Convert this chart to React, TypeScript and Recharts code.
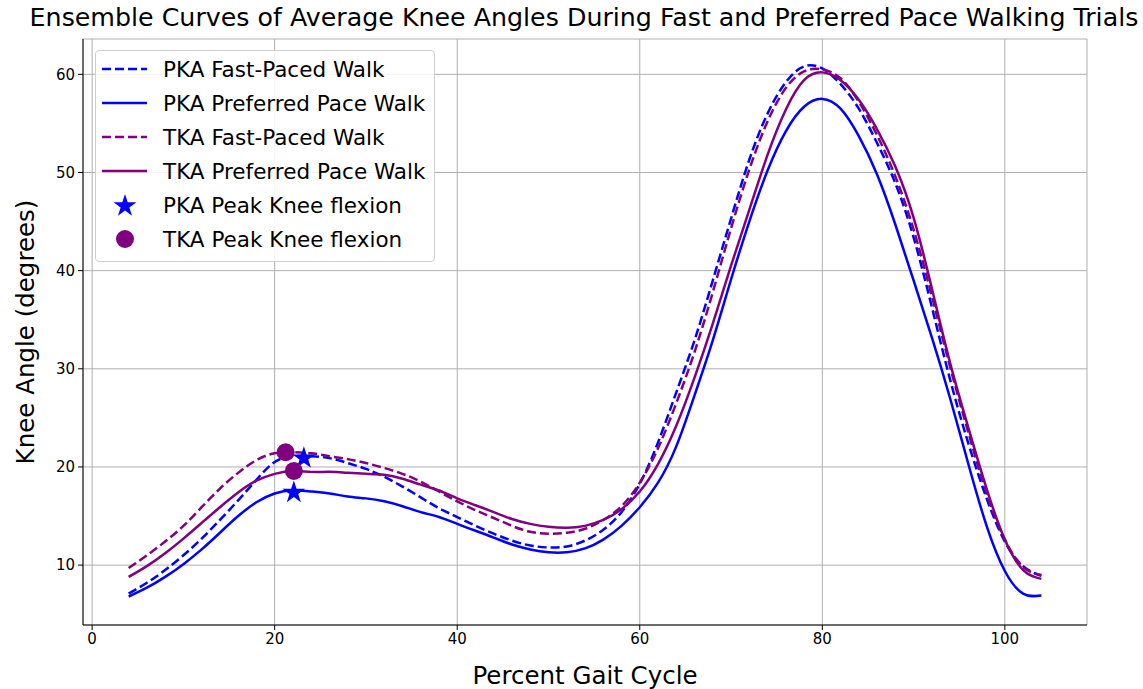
import React from 'react';
import { ComposedChart, Line, Scatter, XAxis, YAxis, CartesianGrid, Legend } from 'recharts';

const gaitPct = [4, 6, 8, 10, 12, 14, 16, 18, 20, 22, 24, 26, 28, 30, 32, 34, 36, 38, 40, 42, 44, 46, 48, 50, 52, 54, 56, 58, 60, 62, 64, 66, 68, 70, 72, 74, 76, 78, 80, 82, 84, 86, 88, 90, 92, 94, 96, 98, 100, 102, 104];

const pkaFast = [7.1, 8.2, 9.5, 11.0, 12.7, 14.6, 16.6, 18.7, 20.5, 21.1, 21.1, 20.9, 20.4, 19.8, 19.0, 18.0, 16.9, 15.8, 14.9, 14.0, 13.2, 12.5, 12.0, 11.8, 11.9, 12.5, 13.6, 15.4, 18.3, 22.5, 27.6, 32.9, 39.0, 45.3, 51.3, 56.0, 59.2, 60.8, 60.6, 59.0, 56.5, 53.0, 48.9, 43.4, 36.3, 28.9, 22.4, 16.8, 12.4, 9.9, 8.9];

const pkaPref = [6.8, 7.7, 8.8, 10.1, 11.6, 13.3, 15.0, 16.4, 17.3, 17.6, 17.5, 17.3, 17.0, 16.8, 16.5, 16.0, 15.4, 14.9, 14.2, 13.5, 12.8, 12.1, 11.6, 11.3, 11.3, 11.7, 12.6, 14.0, 15.9, 18.4, 22.1, 27.3, 32.9, 39.1, 45.0, 50.2, 54.2, 56.7, 57.5, 56.5, 53.7, 49.8, 44.7, 39.0, 33.2, 27.0, 20.3, 14.0, 9.4, 7.1, 6.9];

const tkaFast = [9.7, 11.0, 12.4, 14.0, 15.9, 17.8, 19.4, 20.7, 21.4, 21.5, 21.4, 21.1, 20.8, 20.4, 19.9, 19.3, 18.5, 17.5, 16.5, 15.6, 14.8, 14.0, 13.4, 13.2, 13.3, 13.7, 14.6, 16.0, 18.4, 21.9, 26.5, 31.7, 37.8, 44.3, 50.3, 55.2, 58.6, 60.3, 60.5, 59.6, 57.2, 53.8, 49.6, 44.2, 37.4, 30.2, 23.5, 17.3, 12.6, 9.8, 9.0];

const tkaPref = [8.8, 9.9, 11.2, 12.7, 14.3, 15.9, 17.4, 18.6, 19.3, 19.6, 19.5, 19.5, 19.4, 19.3, 19.2, 18.8, 18.2, 17.6, 16.8, 16.1, 15.4, 14.7, 14.2, 13.9, 13.8, 14.0, 14.6, 15.7, 17.5, 20.3, 24.2, 29.1, 34.6, 40.5, 46.2, 51.8, 56.4, 59.4, 60.2, 59.4, 57.4, 54.4, 50.6, 45.4, 38.2, 30.6, 24.0, 17.8, 12.6, 9.5, 8.6];

const pkaPeakX = [22.1, 23.2];
const pkaPeakY = [17.5, 21.0];
const tkaPeakX = [22.1, 21.2];
const tkaPeakY = [19.6, 21.5];

const xTicks = [0, 20, 40, 60, 80, 100];
const yTicks = [10, 20, 30, 40, 50, 60];

const TITLE = 'Ensemble Curves of Average Knee Angles During Fast and Preferred Pace Walking Trials';
const X_LABEL = 'Percent Gait Cycle';
const Y_LABEL = 'Knee Angle (degrees)';

const BLUE = '#0000ff';
const PURPLE = '#800080';
const FONT = '"DejaVu Sans", sans-serif';

const data = gaitPct.map((x, i) => ({
  x,
  pkaFast: pkaFast[i],
  pkaPref: pkaPref[i],
  tkaFast: tkaFast[i],
  tkaPref: tkaPref[i],
}));
const pkaPeaks = pkaPeakX.map((x, i) => ({ x, y: pkaPeakY[i] }));
const tkaPeaks = tkaPeakX.map((x, i) => ({ x, y: tkaPeakY[i] }));

const starPoints = (cx: number, cy: number, R: number) => {
  const r = R * 0.382;
  const pts: string[] = [];
  for (let k = 0; k < 10; k++) {
    const rad = k % 2 === 0 ? R : r;
    const a = -Math.PI / 2 + (k * Math.PI) / 5;
    pts.push(`${cx + rad * Math.cos(a)},${cy + rad * Math.sin(a)}`);
  }
  return pts.join(' ');
};

const StarShape = (props: any) => {
  const { cx, cy } = props;
  if (cx == null || cy == null) return null;
  return <polygon points={starPoints(cx, cy + 1, 12)} fill={BLUE} />;
};

const DotShape = (props: any) => {
  const { cx, cy } = props;
  if (cx == null || cy == null) return null;
  return <circle cx={cx} cy={cy} r={9} fill={PURPLE} />;
};

const legendItems = [
  { label: 'PKA Fast-Paced Walk', kind: 'dash', color: BLUE },
  { label: 'PKA Preferred Pace Walk', kind: 'line', color: BLUE },
  { label: 'TKA Fast-Paced Walk', kind: 'dash', color: PURPLE },
  { label: 'TKA Preferred Pace Walk', kind: 'line', color: PURPLE },
  { label: 'PKA Peak Knee flexion', kind: 'star', color: BLUE },
  { label: 'TKA Peak Knee flexion', kind: 'dot', color: PURPLE },
];

const LegendBox = () => (
  <div
    style={{
      border: '1px solid #d0d0d0',
      borderRadius: 4,
      background: 'rgba(255,255,255,0.85)',
      padding: '1px 9px 5px 5px',
      fontFamily: FONT,
      fontSize: 21.5,
      color: '#000',
      boxSizing: 'border-box',
    }}
  >
    {legendItems.map((it) => (
      <div key={it.label} style={{ display: 'flex', alignItems: 'center', height: 34 }}>
        <svg width={48} height={24} style={{ marginRight: 14, flex: 'none' }}>
          {it.kind === 'dash' && (
            <line x1={1} y1={12} x2={46} y2={12} stroke={it.color} strokeWidth={2.5} strokeDasharray="9 4" />
          )}
          {it.kind === 'line' && <line x1={1} y1={12} x2={46} y2={12} stroke={it.color} strokeWidth={2.5} />}
          {it.kind === 'star' && <polygon points={starPoints(24, 13, 12)} fill={it.color} />}
          {it.kind === 'dot' && <circle cx={24} cy={12} r={9} fill={it.color} />}
        </svg>
        <span style={{ whiteSpace: 'nowrap' }}>{it.label}</span>
      </div>
    ))}
  </div>
);

const YLabel = (props: any) => {
  const vb = props.viewBox || {};
  const cx = 25;
  const cy = vb.y + vb.height / 2;
  return (
    <text
      x={cx}
      y={cy}
      transform={`rotate(-90 ${cx} ${cy})`}
      textAnchor="middle"
      dominantBaseline="central"
      fontFamily={FONT}
      fontSize={24.5}
      fill="#000"
    >
      {Y_LABEL}
    </text>
  );
};

const XLabel = (props: any) => {
  const vb = props.viewBox || {};
  const cx = vb.x + vb.width / 2;
  const cy = vb.y + 50;
  return (
    <text x={cx} y={cy} textAnchor="middle" dominantBaseline="central" fontFamily={FONT} fontSize={24.5} fill="#000">
      {X_LABEL}
    </text>
  );
};

const tickStyle = { fontFamily: FONT, fontSize: 15, fill: '#000' };

export default function App() {
  return (
    <div style={{ position: 'absolute', left: 0, top: 0, width: 1143, height: 689, background: '#fff' }}>
      <div
        style={{
          position: 'absolute',
          left: 0,
          width: 1168,
          top: 3,
          textAlign: 'center',
          fontFamily: FONT,
          fontSize: 25.3,
          lineHeight: '30px',
          color: '#000',
          whiteSpace: 'nowrap',
          zIndex: 2,
        }}
      >
        {TITLE}
      </div>
      <ComposedChart
        width={1143}
        height={689}
        data={data}
        margin={{ top: 39, right: 56, bottom: 0, left: 0 }}
      >
        <CartesianGrid stroke="#b0b0b0" strokeWidth={1} />
        <XAxis
          dataKey="x"
          type="number"
          domain={[-1, 109]}
          ticks={xTicks}
          allowDataOverflow
          height={64}
          tickSize={5}
          tickMargin={3}
          tick={tickStyle}
          stroke="#000"
          axisLine={{ stroke: '#000' }}
          tickLine={{ stroke: '#000' }}
          label={<XLabel />}
        />
        <XAxis
          xAxisId="top"
          orientation="top"
          dataKey="x"
          type="number"
          domain={[-1, 109]}
          height={0}
          tick={false}
          tickLine={false}
          axisLine={{ stroke: '#000' }}
        />
        <YAxis
          type="number"
          domain={[3.9, 63.6]}
          ticks={yTicks}
          allowDataOverflow
          width={83}
          tickSize={5}
          tickMargin={3}
          tick={tickStyle}
          axisLine={{ stroke: '#000' }}
          tickLine={{ stroke: '#000' }}
          label={<YLabel />}
        />
        <YAxis
          yAxisId="right"
          orientation="right"
          type="number"
          domain={[3.9, 63.6]}
          width={0}
          tick={false}
          tickLine={false}
          axisLine={{ stroke: '#000' }}
        />
        <Line dataKey="pkaFast" type="natural" stroke={BLUE} strokeWidth={2.5} strokeDasharray="9 4" dot={false} isAnimationActive={false} />
        <Line dataKey="pkaPref" type="natural" stroke={BLUE} strokeWidth={2.5} dot={false} isAnimationActive={false} />
        <Line dataKey="tkaFast" type="natural" stroke={PURPLE} strokeWidth={2.5} strokeDasharray="9 4" dot={false} isAnimationActive={false} />
        <Line dataKey="tkaPref" type="natural" stroke={PURPLE} strokeWidth={2.5} dot={false} isAnimationActive={false} />
        <Scatter data={pkaPeaks} dataKey="y" shape={<StarShape />} isAnimationActive={false} />
        <Scatter data={tkaPeaks} dataKey="y" shape={<DotShape />} isAnimationActive={false} />
        <Legend
          layout="vertical"
          align="center"
          verticalAlign="middle"
          content={<LegendBox />}
          wrapperStyle={{ left: 95, top: 50, width: 'auto', height: 'auto' }}
        />
      </ComposedChart>
    </div>
  );
}
